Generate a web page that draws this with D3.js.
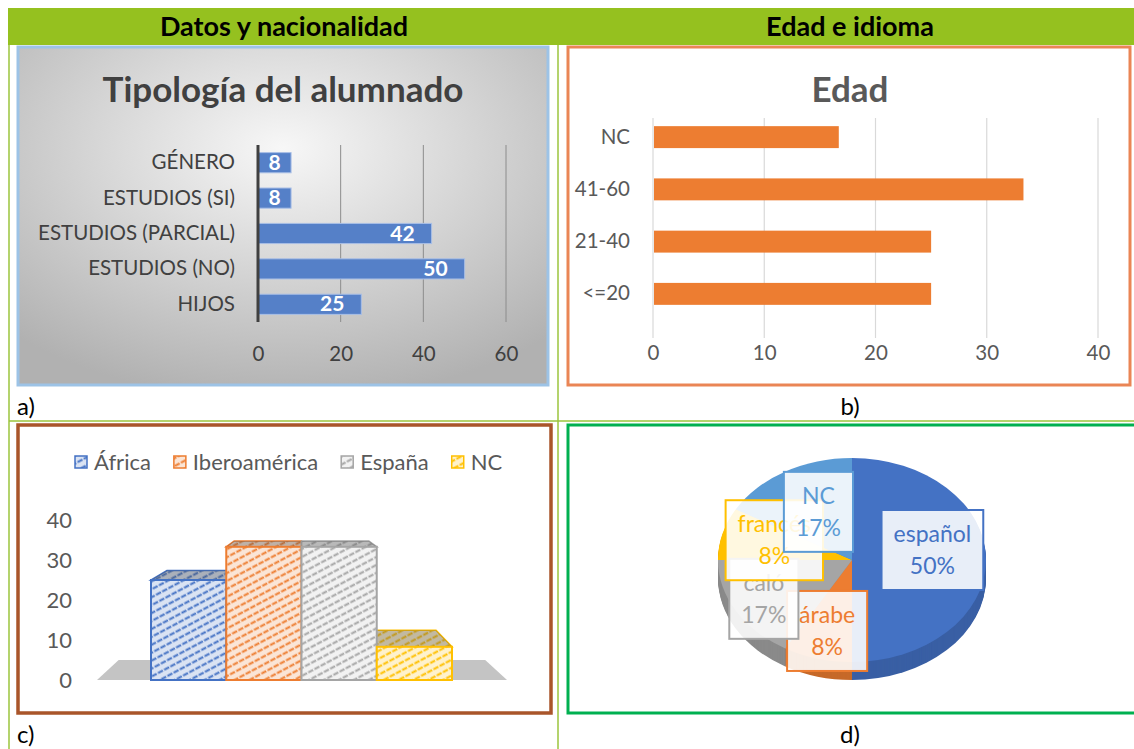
<!DOCTYPE html>
<html>
<head>
<meta charset="utf-8">
<script src="https://cdn.jsdelivr.net/npm/d3@7"></script>
<style>
  body { margin: 0; background: #fff; }
  text { font-family: Lato, "Open Sans", sans-serif; }
</style>
</head>
<body>
<div id="chart"></div>
<script>
// ---- data ----
var tipoCats = ["GÉNERO", "ESTUDIOS (SI)", "ESTUDIOS (PARCIAL)", "ESTUDIOS (NO)", "HIJOS"];
var tipoVals = [8, 8, 42, 50, 25];
var tipoTicks = [0, 20, 40, 60];

var edadCats = ["NC", "41-60", "21-40", "<=20"];
var edadVals = [16.7, 33.3, 25, 25];
var edadTicks = [0, 10, 20, 30, 40];

var origenCats = ["África", "Iberoamérica", "España", "NC"];
var origenVals = [25, 33.3, 33.3, 8.3];
var origenTicks = [0, 10, 20, 30, 40];

var idiomaCats = ["español", "árabe", "caló", "francés", "NC"];
var idiomaVals = [50, 8.3, 16.7, 8.3, 16.7];
var idiomaLabels = ["50%", "8%", "17%", "8%", "17%"];

var svgWidth = 1134;
var svgHeight = 749;

var svg = d3.select("#chart")
    .append("svg")
    .attr("width", svgWidth)
    .attr("height", svgHeight);

var defs = svg.append("defs");

var tableGreen = "#9bc53d";

// header band
svg.append("rect")
    .attr("x", 8).attr("y", 8)
    .attr("width", svgWidth - 8).attr("height", 37)
    .attr("fill", "#95c11f");

svg.append("text")
    .attr("x", 284).attr("y", 36)
    .attr("text-anchor", "middle")
    .attr("font-size", 27).attr("font-weight", "bold")
    .text("Datos y nacionalidad");

svg.append("text")
    .attr("x", 850).attr("y", 36)
    .attr("text-anchor", "middle")
    .attr("font-size", 27).attr("font-weight", "bold")
    .text("Edad e idioma");

// table lines
svg.append("line").attr("x1", 9).attr("x2", 9).attr("y1", 45).attr("y2", svgHeight)
    .attr("stroke", tableGreen).attr("stroke-width", 1.5);
svg.append("line").attr("x1", 558).attr("x2", 558).attr("y1", 45).attr("y2", svgHeight)
    .attr("stroke", tableGreen).attr("stroke-width", 1.5);
svg.append("line").attr("x1", 9).attr("x2", svgWidth).attr("y1", 421).attr("y2", 421)
    .attr("stroke", tableGreen).attr("stroke-width", 1.5);

// sub captions
function caption(x, y, anchor, txt) {
    svg.append("text")
        .attr("x", x).attr("y", y)
        .attr("text-anchor", anchor)
        .attr("font-size", 24)
        .attr("fill", "#000")
        .text(txt);
}
caption(17, 415, "start", "a)");
caption(850, 415, "middle", "b)");
caption(17, 743, "start", "c)");
caption(850, 743, "middle", "d)");

// ================= a) Tipología del alumnado =================
var grad = defs.append("radialGradient")
    .attr("id", "bgA")
    .attr("cx", "50%").attr("cy", "30%").attr("r", "75%");
grad.append("stop").attr("offset", "0%").attr("stop-color", "#f7f7f7");
grad.append("stop").attr("offset", "100%").attr("stop-color", "#b1b1b1");

svg.append("rect")
    .attr("x", 18).attr("y", 47)
    .attr("width", 530).attr("height", 338)
    .attr("fill", "url(#bgA)")
    .attr("stroke", "#9dc3e6").attr("stroke-width", 3);

svg.append("text")
    .attr("x", 283).attr("y", 102)
    .attr("text-anchor", "middle")
    .attr("font-size", 35).attr("font-weight", "bold")
    .attr("fill", "#404040")
    .text("Tipología del alumnado");

var xA = d3.scaleLinear().domain([0, 60]).range([258, 506]);
var yA = d3.scaleBand().domain(tipoCats).range([145, 322])
    .paddingInner(0.43).paddingOuter(0.215);

var gA = svg.append("g");

gA.selectAll(".gridA")
    .data(tipoTicks.slice(1))
    .enter()
    .append("line")
    .attr("x1", d => xA(d)).attr("x2", d => xA(d))
    .attr("y1", 145).attr("y2", 322)
    .attr("stroke", "#8c8c8c").attr("stroke-width", 1);

gA.selectAll(".barA")
    .data(tipoVals)
    .enter()
    .append("rect")
    .attr("x", xA(0))
    .attr("y", (d, i) => yA(tipoCats[i]))
    .attr("width", d => xA(d) - xA(0))
    .attr("height", yA.bandwidth())
    .attr("fill", "#5580c8")
    .attr("stroke", "#a9bfe6").attr("stroke-width", 1);

// value labels: inside end, centred when the bar is too short
gA.selectAll(".valA")
    .data(tipoVals)
    .enter()
    .append("text")
    .attr("y", (d, i) => yA(tipoCats[i]) + yA.bandwidth() / 2 + 7)
    .attr("text-anchor", "middle")
    .attr("font-size", 21).attr("font-weight", "bold")
    .attr("fill", "#fff")
    .text(d => d)
    .attr("x", function (d) {
        var w = this.getComputedTextLength();
        var barW = xA(d) - xA(0);
        if (barW < w + 34) return xA(0) + barW / 2;
        return xA(d) - 17 - w / 2;
    });

gA.append("line")
    .attr("x1", xA(0)).attr("x2", xA(0))
    .attr("y1", 145).attr("y2", 322)
    .attr("stroke", "#404040").attr("stroke-width", 3);

var axisAx = gA.append("g")
    .attr("transform", "translate(0,322)")
    .call(d3.axisBottom(xA).tickValues(tipoTicks).tickSize(0).tickPadding(24));
var axisAy = gA.append("g")
    .attr("transform", `translate(${xA(0)},0)`)
    .call(d3.axisLeft(yA).tickSize(0).tickPadding(23));
[axisAx, axisAy].forEach(function (ax) {
    ax.select(".domain").remove();
    ax.selectAll("text").attr("font-size", 20.5).attr("fill", "#404040")
        .attr("font-family", "Lato, sans-serif");
});

// ================= b) Edad =================
svg.append("rect")
    .attr("x", 568).attr("y", 47)
    .attr("width", 562).attr("height", 338)
    .attr("fill", "#fff")
    .attr("stroke", "#ea8555").attr("stroke-width", 3);

svg.append("text")
    .attr("x", 850).attr("y", 102)
    .attr("text-anchor", "middle")
    .attr("font-size", 35).attr("font-weight", "bold")
    .attr("fill", "#595959")
    .text("Edad");

var xB = d3.scaleLinear().domain([0, 40]).range([653, 1098]);
var yB = d3.scaleBand().domain(edadCats).range([111, 320])
    .paddingInner(0.58).paddingOuter(0.29);

var gB = svg.append("g");

gB.selectAll(".gridB")
    .data(edadTicks)
    .enter()
    .append("line")
    .attr("x1", d => xB(d)).attr("x2", d => xB(d))
    .attr("y1", 118).attr("y2", 338)
    .attr("stroke", "#d9d9d9").attr("stroke-width", 1.2);

gB.selectAll(".barB")
    .data(edadVals)
    .enter()
    .append("rect")
    .attr("x", xB(0) + 1)
    .attr("y", (d, i) => yB(edadCats[i]))
    .attr("width", d => xB(d) - xB(0) - 1)
    .attr("height", yB.bandwidth())
    .attr("fill", "#ed7d31");

var axisBx = gB.append("g")
    .attr("transform", "translate(0,338)")
    .call(d3.axisBottom(xB).tickValues(edadTicks).tickSize(0).tickPadding(7));
var axisBy = gB.append("g")
    .attr("transform", `translate(${xB(0)},0)`)
    .call(d3.axisLeft(yB).tickSize(0).tickPadding(23));
[axisBx, axisBy].forEach(function (ax) {
    ax.select(".domain").remove();
    ax.selectAll("text").attr("font-size", 20.5).attr("fill", "#595959")
        .attr("font-family", "Lato, sans-serif");
});

// ================= c) Nacionalidad (3D columns) =================
var origenColors = ["#4472c4", "#ed7d31", "#a5a5a5", "#ffc000"];
var origenLight = ["#dae3f3", "#fbe5d6", "#f2f2f2", "#fff2cc"];

origenCats.forEach(function (c, i) {
    var p = defs.append("pattern")
        .attr("id", "hatch" + i)
        .attr("patternUnits", "userSpaceOnUse")
        .attr("width", 7).attr("height", 7)
        .attr("patternTransform", "rotate(-28)");
    p.append("rect").attr("width", 7).attr("height", 7).attr("fill", origenLight[i]);
    p.append("line")
        .attr("x1", 0).attr("x2", 7).attr("y1", 3.5).attr("y2", 3.5)
        .attr("stroke", origenColors[i]).attr("stroke-width", 2)
        .attr("stroke-dasharray", "4,1.5");
});

svg.append("rect")
    .attr("x", 18).attr("y", 425)
    .attr("width", 533).attr("height", 288)
    .attr("fill", "#fff")
    .attr("stroke", "#a9552a").attr("stroke-width", 3.5);

var xC = d3.scaleBand().domain(origenCats).range([151, 452]).padding(0);
var yC = d3.scaleLinear().domain([0, 40]).range([680, 520]);

// simple perspective towards a vanishing point above the bars
var vpX = (xC.range()[0] + xC.range()[1]) / 2;
var horizonY = 491;
var depthF = 0.894;
function back(x, y) {
    return [vpX + (x - vpX) * depthF, horizonY + (y - horizonY) * depthF];
}

var gC = svg.append("g");

// floor
var fl = 97, fr = 507, fy = yC(0);
var floorPts = [[fl, fy], [fr, fy], back(fr, fy), back(fl, fy)];
gC.append("path")
    .attr("d", "M" + floorPts.join("L") + "Z")
    .attr("fill", "#c4c4c4");

// top faces
origenVals.forEach(function (v, i) {
    var x0 = xC(origenCats[i]), x1 = x0 + xC.bandwidth(), yt = yC(v);
    var pts = [[x0, yt], [x1, yt], back(x1, yt), back(x0, yt)];
    gC.append("path")
        .attr("d", "M" + pts.join("L") + "Z")
        .attr("fill", "url(#hatch" + i + ")")
        .attr("stroke", origenColors[i]).attr("stroke-width", 1.5);
    gC.append("path")
        .attr("d", "M" + pts.join("L") + "Z")
        .attr("fill", "#505050").attr("fill-opacity", 0.35);
});

// front faces
gC.selectAll(".barC")
    .data(origenVals)
    .enter()
    .append("rect")
    .attr("x", (d, i) => xC(origenCats[i]))
    .attr("y", d => yC(d))
    .attr("width", xC.bandwidth())
    .attr("height", d => yC(0) - yC(d))
    .attr("fill", (d, i) => "url(#hatch" + i + ")")
    .attr("stroke", (d, i) => origenColors[i])
    .attr("stroke-width", 2);

var axisCy = gC.append("g")
    .attr("transform", "translate(72,0)")
    .call(d3.axisLeft(yC).tickValues(origenTicks).tickSize(0).tickPadding(0));
axisCy.select(".domain").remove();
axisCy.selectAll("text").attr("font-size", 22).attr("fill", "#595959")
    .attr("font-family", "Lato, sans-serif");

// legend
var legend = svg.append("g");
var lx = 75;
origenCats.forEach(function (c, i) {
    legend.append("rect")
        .attr("x", lx).attr("y", 456)
        .attr("width", 12).attr("height", 12)
        .attr("fill", "url(#hatch" + i + ")")
        .attr("stroke", origenColors[i]).attr("stroke-width", 1.5);
    var t = legend.append("text")
        .attr("x", lx + 19).attr("y", 470)
        .attr("font-size", 22).attr("fill", "#595959")
        .text(c);
    lx += 19 + t.node().getComputedTextLength() + 23;
});

// ================= d) Idioma (3D pie) =================
svg.append("rect")
    .attr("x", 568).attr("y", 425)
    .attr("width", 580).attr("height", 288)
    .attr("fill", "#fff")
    .attr("stroke", "#00b050").attr("stroke-width", 3);

var idiomaColors = ["#4472c4", "#ed7d31", "#a5a5a5", "#ffc000", "#5b9bd5"];
var cx = 852, cy = 560, rx = 134, ry = 102, thick = 18;

var pie = d3.pie().sort(null).value(d => d);
var arcs = pie(idiomaVals);
var arc = d3.arc().innerRadius(0).outerRadius(rx);

var gD = svg.append("g");

// side of the pie: stacked layers
for (var t = thick; t > 0; t--) {
    gD.append("g")
        .attr("transform", `translate(${cx},${cy + t}) scale(1,${ry / rx})`)
        .selectAll("path")
        .data(arcs)
        .enter()
        .append("path")
        .attr("d", arc)
        .attr("fill", (d, i) => d3.color(idiomaColors[i]).darker(0.5));
}

gD.append("g")
    .attr("transform", `translate(${cx},${cy}) scale(1,${ry / rx})`)
    .selectAll("path")
    .data(arcs)
    .enter()
    .append("path")
    .attr("d", arc)
    .attr("fill", (d, i) => idiomaColors[i]);

// data labels in boxes
var labelRadius = [0.6, 0.72, 0.76, 0.6, 0.5];
var labelLift = [10, 0, 0, 4, 4];
arcs.forEach(function (a, i) {
    var mid = (a.startAngle + a.endAngle) / 2;
    var lxp = cx + rx * labelRadius[i] * Math.sin(mid);
    var lyp = cy - ry * labelRadius[i] * Math.cos(mid) - labelLift[i];
    var g = gD.append("g");
    var box = g.append("rect");
    var t1 = g.append("text")
        .attr("x", lxp).attr("y", lyp - 16 + 8)
        .attr("text-anchor", "middle")
        .attr("font-size", 23).attr("fill", idiomaColors[i])
        .text(idiomaCats[i]);
    var t2 = g.append("text")
        .attr("x", lxp).attr("y", lyp + 16 + 8)
        .attr("text-anchor", "middle")
        .attr("font-size", 23).attr("fill", idiomaColors[i])
        .text(idiomaLabels[i]);
    var w = Math.max(t1.node().getComputedTextLength(), t2.node().getComputedTextLength()) + 24;
    box.attr("x", lxp - w / 2).attr("y", lyp - 40)
        .attr("width", w).attr("height", 80)
        .attr("fill", "#fff").attr("fill-opacity", 0.88)
        .attr("stroke", idiomaColors[i]).attr("stroke-width", 2);
});
</script>
</body>
</html>
